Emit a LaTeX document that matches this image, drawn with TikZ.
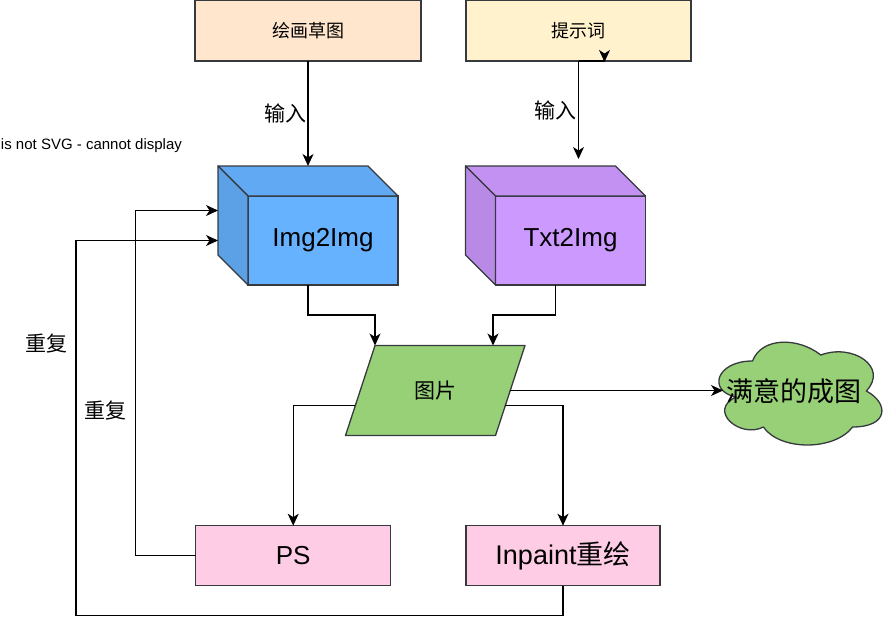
\documentclass[tikz,border=0pt]{standalone}
\usepackage{fontspec}
\setmainfont{Liberation Sans}
\newfontfamily\cjk{Noto Sans CJK SC}
\usepackage{tikz}
\usetikzlibrary{arrows.meta,calc,positioning}

\definecolor{edgegray}{HTML}{36393D}
\definecolor{sketchorange}{HTML}{FFE6CC}
\definecolor{promptyellow}{HTML}{FFF2CC}
\definecolor{editpink}{HTML}{FFCCE6}
\definecolor{picgreen}{HTML}{97D077}
\definecolor{imgblue}{HTML}{66B2FF}
\definecolor{txtpurple}{HTML}{CC99FF}

\begin{document}
\begin{tikzpicture}[
        x=1pt, y=-1pt,
        every node/.style={inner sep=0pt, outer sep=0pt},
        box/.style={draw=edgegray, line width=1.3pt},
        front/.style={box, minimum width=150pt, minimum height=89pt, font=\fontsize{26}{28}\selectfont},
        face/.style={draw=edgegray, line width=1.3pt, line join=round},
        arr/.style={line width=1.3pt, -{Stealth[length=12pt, width=11pt, inset=3.5pt]}},
        lbl/.style={font=\cjk\fontsize{21}{23}\selectfont},
    ]
    \useasboundingbox (0,0) rectangle (887,629);

    % --- inputs ---
    \node[box, fill=sketchorange, minimum width=226pt, minimum height=61pt,
          font=\cjk\fontsize{18}{20}\selectfont] (sketch) at (308,30.5) {绘画草图};
    \node[box, fill=promptyellow, minimum width=225pt, minimum height=61pt,
          font=\cjk\fontsize{18}{20}\selectfont] (prompt) at (578.5,30.5) {提示词};

    % --- models (cubes) ---
    \node[front, fill=imgblue] (i2i) at (323,240.5) {Img2Img};
    \filldraw[face, fill=imgblue!95!black] (i2i.north west) -- ++(-30,-30) -- ++(150,0) -- (i2i.north east) -- cycle;
    \filldraw[face, fill=imgblue!90!black] (i2i.north west) -- ++(-30,-30) -- ++(0,89) -- (i2i.south west) -- cycle;

    \node[front, fill=txtpurple] (t2i) at (570.5,240.5) {Txt2Img};
    \filldraw[face, fill=txtpurple!95!black] (t2i.north west) -- ++(-30,-30) -- ++(150,0) -- (t2i.north east) -- cycle;
    \filldraw[face, fill=txtpurple!90!black] (t2i.north west) -- ++(-30,-30) -- ++(0,89) -- (t2i.south west) -- cycle;

    % --- picture (parallelogram) ---
    \filldraw[face, fill=picgreen] (345.5,435.5) -- (375,345.5) -- (525,345.5) -- (495.5,435.5) -- cycle;
    \node[lbl, minimum width=180pt, minimum height=90pt] (pic) at (435,390.5) {图片};

    % --- result cloud ---
    \filldraw[face, fill=picgreen] (752.5,361)
        .. controls (716.1,361) and (707,391) .. (736.1,397)
        .. controls (707,410.2) and (739.8,439) .. (763.4,427)
        .. controls (779.8,451) and (834.4,451) .. (852.6,427)
        .. controls (889,427) and (889,403) .. (866.3,391)
        .. controls (889,367) and (852.6,343) .. (820.8,355)
        .. controls (798,337) and (761.6,337) .. (752.5,361) -- cycle;
    \node[font=\cjk\fontsize{27}{29}\selectfont] (result) at (794,391) {满意的成图};

    % --- edits ---
    \node[box, fill=editpink, minimum width=195pt, minimum height=60pt,
          font=\fontsize{26}{28}\selectfont] (ps) at (293.2,555.7) {PS};
    \node[box, fill=editpink, minimum width=194pt, minimum height=60pt,
          font=\fontsize{27}{29}\selectfont] (inpaint) at (563,555.7) {Inpaint{\cjk 重绘}};

    \node[anchor=west, font=\fontsize{15}{17}\selectfont] (nosvg) at (1,146) {is not SVG - cannot display};

    % --- connector ends ---
    \coordinate (i2itop) at ($(i2i.north)+(-15,-30)$);
    \coordinate (t2itop) at ($(t2i.north)+(8,-37)$);
    \coordinate (i2iin1) at ($(i2i.west)+(-30,-30)$);
    \coordinate (i2iin2) at ($(i2i.west)+(-30,0)$);
    \coordinate (stub) at ($(prompt.south)+(26,1)$);
    \coordinate (resultin) at (723,390.5);

    % --- arrows ---
    \draw[arr] (sketch) -- node[midway, left=2pt, lbl] (in1) {输入} (i2itop);
    \draw[arr] (prompt) -- node[midway, left=2pt, lbl] (in2) {输入} (t2itop);
    \draw[arr] (prompt.south) -| (stub);
    \draw[arr] ($(i2i.south)+(-15,0)$) -- ++(0,30) -| ($(pic.north west)+(30,0)$);
    \draw[arr] ($(t2i.south)+(-15,0)$) -- ++(0,30) -| ($(pic.north west)+(148,0)$);
    \draw[arr] ($(pic.center)+(75,0)$) -- (resultin);
    \draw[arr] ($(pic.center)+(-80,15)$) -| (ps);
    \draw[arr] ($(pic.center)+(70,15)$) -| (inpaint);
    \draw[arr] (ps.west) -- ++(-60,0) |- node[pos=.21, left=9pt, lbl] (rep2) {重复} (i2iin1);
    \draw[arr] (inpaint.south) -- ++(0,30) -| node[pos=.863, left=9pt, lbl] (rep1) {重复} ($(i2iin2)+(-142,0)$) -- (i2iin2);
\end{tikzpicture}
\end{document}
